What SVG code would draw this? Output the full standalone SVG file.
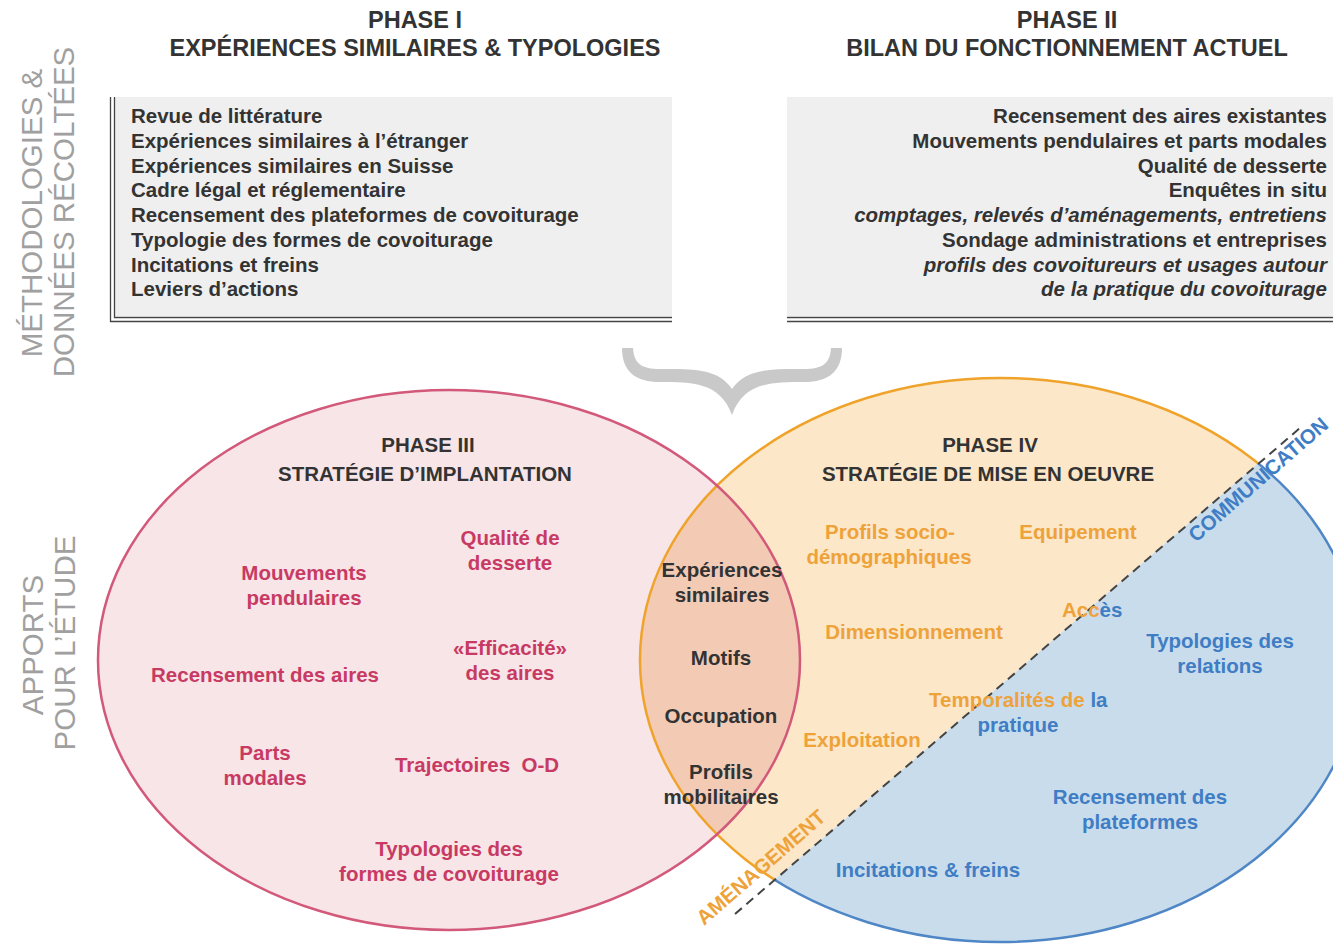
<svg xmlns="http://www.w3.org/2000/svg" width="1333" height="944" viewBox="0 0 1333 944">
<style>
text{font-family:"Liberation Sans",Arial,sans-serif;font-weight:bold;font-size:20.5px}
.hd{font-size:23.5px;fill:#333;text-anchor:middle}
.bx{fill:#333}
.it{font-style:italic}
.side{font-weight:normal;font-size:29.5px;fill:#a0a0a0;text-anchor:middle}
.pk{fill:#c83a63;text-anchor:middle}
.dk{fill:#333;text-anchor:middle}
.or{fill:#eea23a;text-anchor:middle}
.bl{fill:#3f7dc4;text-anchor:middle}
.dbl{stroke:#444;stroke-width:1.3;fill:none}
</style>
<defs>
<clipPath id="cRight"><ellipse cx="1000" cy="660" rx="360" ry="282"/></clipPath>
<clipPath id="cUp"><polygon points="400,1202 1600,169 1600,-10 400,-10"/></clipPath>
<clipPath id="cLow"><polygon points="400,1202 1600,169 1600,1300 400,1300"/></clipPath>
</defs>
<rect width="1333" height="944" fill="#fff"/>

<g id="side-labels">
<text class="side" transform="translate(42,213) rotate(-90)">MÉTHODOLOGIES &amp;</text>
<text class="side" transform="translate(74,212) rotate(-90)">DONNÉES RÉCOLTÉES</text>
<text class="side" transform="translate(43,645) rotate(-90)">APPORTS</text>
<text class="side" transform="translate(75,643) rotate(-90)">POUR L’ÉTUDE</text>
</g>

<g id="phase1">
<text class="hd" x="415" y="28">PHASE I</text>
<text class="hd" x="415" y="56">EXPÉRIENCES SIMILAIRES &amp; TYPOLOGIES</text>
<rect x="115" y="97" width="557" height="219" fill="#efefef"/>
<path class="dbl" d="M110.5 97V321.5H672M114.5 97V317.5H672"/>
<text class="bx" x="131" y="123">Revue de littérature</text>
<text class="bx" x="131" y="148">Expériences similaires à l’étranger</text>
<text class="bx" x="131" y="173">Expériences similaires en Suisse</text>
<text class="bx" x="131" y="197">Cadre légal et réglementaire</text>
<text class="bx" x="131" y="222">Recensement des plateformes de covoiturage</text>
<text class="bx" x="131" y="247">Typologie des formes de covoiturage</text>
<text class="bx" x="131" y="272">Incitations et freins</text>
<text class="bx" x="131" y="296">Leviers d’actions</text>
</g>

<g id="phase2">
<text class="hd" x="1067" y="28">PHASE II</text>
<text class="hd" x="1067" y="56">BILAN DU FONCTIONNEMENT ACTUEL</text>
<rect x="787" y="97" width="546" height="219" fill="#efefef"/>
<path class="dbl" d="M787 317.5H1333M787 321.5H1333"/>
<g class="bx" text-anchor="end">
<text x="1327" y="123">Recensement des aires existantes</text>
<text x="1327" y="148">Mouvements pendulaires et parts modales</text>
<text x="1327" y="173">Qualité de desserte</text>
<text x="1327" y="197">Enquêtes in situ</text>
<text class="it" x="1327" y="222">comptages, relevés d’aménagements, entretiens</text>
<text x="1327" y="247">Sondage administrations et entreprises</text>
<text class="it" x="1327" y="272">profils des covoitureurs et usages autour</text>
<text class="it" x="1327" y="296">de la pratique du covoiturage</text>
</g>
</g>

<g id="connectors">
<path id="brace" fill="#c9c9c9" d="M622 348C622 372 636 382 660 382C692 382 720 382 732 415C744 382 772 382 804 382C828 382 842 372 842 348L831 348C830 364 822 369 804 369C772 369 746 368 732 389C718 368 692 369 660 369C642 369 634 364 633 348Z"/>
</g>

<g id="phase3-shape">
<ellipse cx="449" cy="660" rx="351" ry="270" fill="#f7e5e7"/>
</g>
<g id="phase4-shape">
<ellipse cx="1000" cy="660" rx="360" ry="282" fill="#fce7c9" clip-path="url(#cUp)"/>
<ellipse cx="1000" cy="660" rx="360" ry="282" fill="#c9dcec" clip-path="url(#cLow)"/>
</g>
<g id="overlap-shape">
<ellipse cx="449" cy="660" rx="351" ry="270" fill="#f3cbb5" clip-path="url(#cRight)"/>
</g>
<g id="outlines" fill="none" stroke-width="2.5">
<ellipse cx="1000" cy="660" rx="360" ry="282" stroke="#f0a32a" clip-path="url(#cUp)"/>
<ellipse cx="1000" cy="660" rx="360" ry="282" stroke="#4f86c6" clip-path="url(#cLow)"/>
<ellipse cx="449" cy="660" rx="351" ry="270" stroke="#d2597a"/>
</g>
<g id="divider">
<line x1="735" y1="914" x2="1300" y2="428" stroke="#444" stroke-width="2" stroke-dasharray="9,6"/>
<text transform="translate(704,926) rotate(-41)" fill="#eea23a" font-size="20">AMÉNAGEMENT</text>
<text transform="translate(1196,543) rotate(-41)" fill="#3f7dc4" font-size="18">COMMUNICATION</text>
</g>

<g id="phase3">
<text class="dk" x="428" y="452" font-size="23.5">PHASE III</text>
<text class="dk" x="425" y="481" font-size="23.5">STRATÉGIE D’IMPLANTATION</text>
<text class="pk" x="510" y="545">Qualité de</text>
<text class="pk" x="510" y="570">desserte</text>
<text class="pk" x="304" y="580">Mouvements</text>
<text class="pk" x="304" y="605">pendulaires</text>
<text class="pk" x="510" y="655">«Efficacité»</text>
<text class="pk" x="510" y="680">des aires</text>
<text class="pk" x="265" y="682">Recensement des aires</text>
<text class="pk" x="265" y="760">Parts</text>
<text class="pk" x="265" y="785">modales</text>
<text class="pk" x="477" y="772" xml:space="preserve">Trajectoires  O-D</text>
<text class="pk" x="449" y="856">Typologies des</text>
<text class="pk" x="449" y="881">formes de covoiturage</text>
</g>

<g id="overlap">
<text class="dk" x="722" y="577">Expériences</text>
<text class="dk" x="722" y="602">similaires</text>
<text class="dk" x="721" y="665">Motifs</text>
<text class="dk" x="721" y="723">Occupation</text>
<text class="dk" x="721" y="779">Profils</text>
<text class="dk" x="721" y="804">mobilitaires</text>
</g>

<g id="phase4">
<text class="dk" x="990" y="452" font-size="23.5">PHASE IV</text>
<text class="dk" x="988" y="481" font-size="23.5">STRATÉGIE DE MISE EN OEUVRE</text>
<text class="or" x="890" y="539">Profils socio-</text>
<text class="or" x="889" y="564">démographiques</text>
<text class="or" x="1078" y="539">Equipement</text>
<text class="or" x="914" y="639">Dimensionnement</text>
<text x="1062" y="617"><tspan fill="#eea23a">Acc</tspan><tspan fill="#3f7dc4">ès</tspan></text>
<text x="929" y="707"><tspan fill="#eea23a">Temporalités de </tspan><tspan fill="#3f7dc4">la</tspan></text>
<text class="bl" x="1018" y="732">pratique</text>
<text class="or" x="862" y="747">Exploitation</text>
<text class="bl" x="1220" y="648">Typologies des</text>
<text class="bl" x="1220" y="673">relations</text>
<text class="bl" x="1140" y="804">Recensement des</text>
<text class="bl" x="1140" y="829">plateformes</text>
<text class="bl" x="928" y="877">Incitations &amp; freins</text>
</g>
</svg>
